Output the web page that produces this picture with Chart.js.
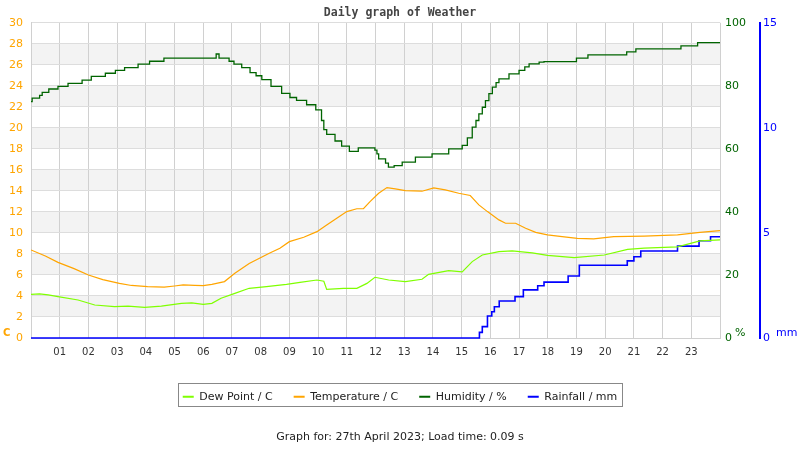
<!DOCTYPE html>
<html>
<head>
<meta charset="utf-8">
<title>Daily graph of Weather</title>
<script src="https://cdn.jsdelivr.net/npm/chart.js@4.4.0/dist/chart.umd.min.js"></script>
<style>
  body { margin: 0; background: #fff; }
  canvas { display: block; }
</style>
</head>
<body>
<canvas id="weatherChart" width="800" height="450"></canvas>
<script>
// readings for 27th April 2023, time in hours since midnight

const hourLabels = ['01', '02', '03', '04', '05', '06', '07', '08', '09', '10', '11', '12',
    '13', '14', '15', '16', '17', '18', '19', '20', '21', '22', '23'];

const dewHours = [0, 0.3, 0.6, 0.94, 1.64, 2.22, 2.91, 3.38, 3.96, 4.54, 5.24, 5.6, 6.0, 6.3, 6.62,
    7.1, 7.6, 8.2, 8.9, 9.37, 9.96, 10.2, 10.3, 10.88, 11.35, 11.7, 11.98, 12.46, 13.04, 13.62,
    13.85, 14.55, 15.02, 15.37, 15.72, 16.3, 16.76, 17.46, 17.99, 18.92, 19.97, 20.78, 21.36,
    22.52, 23.3, 24];
const dewValues = [4.16, 4.2, 4.1, 3.94, 3.62, 3.14, 2.98, 3.03, 2.92, 3.03, 3.3, 3.35, 3.2, 3.3, 3.78,
    4.25, 4.73, 4.89, 5.11, 5.3, 5.52, 5.4, 4.63, 4.73, 4.73, 5.2, 5.78, 5.52, 5.37, 5.59,
    6.06, 6.41, 6.3, 7.27, 7.9, 8.22, 8.29, 8.1, 7.87, 7.65, 7.9, 8.44, 8.56,
    8.68, 9.24, 9.33];

const tempHours = [0, 0.5, 0.94, 1.5, 2.0, 2.5, 3.08, 3.5, 4.06, 4.64, 5.0, 5.3, 5.7, 6.0, 6.3, 6.74,
    7.1, 7.6, 8.3, 8.67, 9.0, 9.5, 9.96, 10.3, 10.65, 11.0, 11.35, 11.58, 11.81, 12.11, 12.4,
    12.69, 13.04, 13.62, 14.03, 14.43, 14.9, 15.3, 15.6, 15.9, 16.3, 16.53, 16.88, 17.23, 17.58,
    17.99, 18.5, 19.03, 19.6, 20.3, 21.36, 22.52, 23.3, 24];
const tempValues = [8.38, 7.8, 7.2, 6.6, 6.0, 5.55, 5.2, 5.0, 4.89, 4.85, 4.95, 5.05, 5.0, 4.98, 5.1, 5.37,
    6.16, 7.1, 8.06, 8.54, 9.17, 9.59, 10.12, 10.76, 11.4, 12.03, 12.3, 12.3, 12.98, 13.78, 14.32,
    14.2, 14.03, 13.97, 14.29, 14.1, 13.78, 13.56, 12.67, 12.03, 11.24, 10.92, 10.92, 10.44, 10.06,
    9.81, 9.65, 9.49, 9.43, 9.65, 9.7, 9.81, 10.06, 10.22];

// humidity and rainfall change in steps: each value holds from its hour to the next one
const humHours = [0, 0.04, 0.3, 0.39, 0.62, 0.94, 1.29, 1.78, 2.1, 2.59, 2.94, 3.26, 3.73, 4.13, 4.63,
    6.45, 6.55, 6.9, 7.07, 7.34, 7.63, 7.84, 8.04, 8.36, 8.73, 9.02, 9.25, 9.6, 9.92, 10.12, 10.2,
    10.3, 10.59, 10.82, 11.09, 11.4, 11.98, 12.05, 12.11, 12.35, 12.45, 12.65, 12.93, 13.39, 13.97,
    14.55, 15.02, 15.2, 15.37, 15.5, 15.6, 15.72, 15.83, 15.95, 16.07, 16.2, 16.3, 16.65, 17.0,
    17.2, 17.35, 17.7, 17.87, 19.0, 19.4, 20.75, 21.07, 22.64, 23.22, 24];
const humValues = [75.0, 76.1, 77.0, 77.9, 79.0, 79.8, 80.8, 81.8, 83.0, 84.0, 84.9, 85.8, 86.9, 87.8, 88.8,
    90.1, 88.8, 87.8, 86.9, 85.8, 84.2, 83.2, 82.0, 79.8, 77.6, 76.3, 75.4, 74.0, 72.4, 69.0, 66.1,
    64.6, 62.5, 60.9, 59.2, 60.3, 59.6, 58.4, 56.8, 55.5, 54.2, 54.7, 55.8, 57.4, 58.4,
    60.0, 61.1, 63.5, 66.9, 69.0, 71.1, 73.2, 75.3, 77.5, 79.6, 81.0, 82.2, 83.8, 84.9,
    86.0, 87.0, 87.5, 87.7, 88.8, 89.8, 90.8, 91.7, 92.7, 93.7, 93.7];

const rainHours = [0, 15.62, 15.72, 15.9, 16.05, 16.14, 16.31, 16.86, 17.15, 17.65, 17.87, 18.71, 19.1,
    20.77, 21.0, 21.24, 22.52, 23.27, 23.67, 24];
const rainValues = [0, 0.27, 0.54, 1.05, 1.25, 1.49, 1.76, 1.97, 2.29, 2.49, 2.66, 2.95, 3.46,
    3.67, 3.87, 4.14, 4.37, 4.63, 4.82, 4.82];

function toPoints(hours, values) {
    return hours.map(function(h, i) { return {x: h, y: values[i]}; });
}

const FONT = '"DejaVu Sans", sans-serif';

// light grey bands behind every other 2 C step
const bandPlugin = {
    id: 'bands',
    beforeDraw(chart) {
        const {ctx, chartArea} = chart;
        const y = chart.scales.y;
        ctx.save();
        ctx.fillStyle = '#f3f3f3';
        for (let v = 2; v < 30; v += 4) {
            const top = y.getPixelForValue(v + 2);
            const bottom = y.getPixelForValue(v);
            ctx.fillRect(chartArea.left, top, chartArea.right - chartArea.left, bottom - top);
        }
        ctx.restore();
    }
};

// unit captions next to the zero of each axis, and the frame round the legend
const extrasPlugin = {
    id: 'extras',
    afterDraw(chart) {
        const ctx = chart.ctx;
        const s = chart.scales;
        ctx.save();
        ctx.textBaseline = 'middle';
        ctx.textAlign = 'left';
        ctx.font = 'bold 10px ' + FONT;
        ctx.fillStyle = '#ffa500';
        ctx.fillText('C', 3, s.y.getPixelForValue(0) - 5);
        ctx.font = '11px ' + FONT;
        ctx.fillStyle = '#006400';
        ctx.fillText('%', s.yHum.left + 15, s.yHum.getPixelForValue(0) - 5);
        ctx.fillStyle = '#0000ff';
        ctx.fillText('mm', s.yRain.left + 16, s.yRain.getPixelForValue(0) - 5);

        const boxes = chart.legend.legendHitBoxes;
        if (boxes && boxes.length) {
            const first = boxes[0];
            const last = boxes[boxes.length - 1];
            const left = Math.round(first.left - 5) + 0.5;
            const right = Math.round(last.left + last.width + 5) + 0.5;
            const top = Math.round(first.top - 8) + 0.5;
            const bottom = Math.round(first.top + first.height + 4) + 0.5;
            ctx.strokeStyle = '#888';
            ctx.lineWidth = 1;
            ctx.strokeRect(left, top, right - left, bottom - top);
        }
        ctx.restore();
    }
};

const ctx = document.getElementById('weatherChart').getContext('2d');

const weatherChart = new Chart(ctx, {
    type: 'line',
    data: {
        datasets: [{
            label: 'Dew Point / C',
            data: toPoints(dewHours, dewValues),
            borderColor: '#7fff00',
            backgroundColor: '#7fff00',
            borderWidth: 1.2,
            yAxisID: 'y'
        }, {
            label: 'Temperature / C',
            data: toPoints(tempHours, tempValues),
            borderColor: '#ffa500',
            backgroundColor: '#ffa500',
            borderWidth: 1.2,
            yAxisID: 'y'
        }, {
            label: 'Humidity / %',
            data: toPoints(humHours, humValues),
            borderColor: '#006400',
            backgroundColor: '#006400',
            borderWidth: 1.3,
            stepped: 'before',
            yAxisID: 'yHum'
        }, {
            label: 'Rainfall / mm',
            data: toPoints(rainHours, rainValues),
            borderColor: '#0000ff',
            backgroundColor: '#0000ff',
            borderWidth: 1.6,
            stepped: 'before',
            clip: 3,
            yAxisID: 'yRain'
        }]
    },
    options: {
        responsive: false,
        animation: false,
        elements: {
            point: { radius: 0 },
            line: { tension: 0 }
        },
        scales: {
            x: {
                type: 'linear',
                min: 0,
                max: 24,
                afterFit: function(scale) { scale.height = 32.2; },
                ticks: {
                    stepSize: 1,
                    autoSkip: false,
                    maxRotation: 0,
                    padding: 8,
                    color: '#333',
                    font: { family: FONT, size: 10 },
                    callback: function(v) {
                        return (v >= 1 && v <= 23) ? hourLabels[v - 1] : '';
                    }
                },
                grid: { color: '#d0d0d0', drawTicks: false },
                border: { color: '#d0d0d0' }
            },
            y: {
                position: 'left',
                min: 0,
                max: 30,
                afterFit: function(scale) { scale.width = 31; },
                ticks: {
                    stepSize: 2,
                    padding: 8,
                    color: '#ffa500',
                    font: { family: FONT, size: 11 }
                },
                grid: { color: '#dddddd', drawTicks: false },
                border: { color: '#d0d0d0' }
            },
            yHum: {
                position: 'right',
                min: 0,
                max: 100,
                afterFit: function(scale) { scale.width = 40; },
                ticks: {
                    stepSize: 20,
                    padding: 5,
                    color: '#006400',
                    font: { family: FONT, size: 11 }
                },
                grid: { drawOnChartArea: false, drawTicks: false },
                border: { display: false }
            },
            yRain: {
                position: 'right',
                min: 0,
                max: 15,
                afterFit: function(scale) { scale.width = 40; },
                ticks: {
                    stepSize: 5,
                    padding: 3,
                    color: '#0000ff',
                    font: { family: FONT, size: 11 }
                },
                grid: { drawOnChartArea: false, drawTicks: false },
                border: { display: true, color: '#0000ff', width: 2 }
            }
        },
        plugins: {
            title: {
                display: true,
                text: 'Daily graph of Weather',
                color: '#444',
                font: { family: '"DejaVu Sans Mono", monospace', size: 11.5, weight: 'bold' },
                padding: { top: 6, bottom: 3 }
            },
            subtitle: {
                display: true,
                position: 'bottom',
                text: 'Graph for: 27th April 2023; Load time: 0.09 s',
                color: '#222',
                font: { family: FONT, size: 11 },
                padding: { top: 18.5, bottom: 6.1 }
            },
            legend: {
                position: 'bottom',
                labels: {
                    usePointStyle: true,
                    pointStyle: 'line',
                    pointStyleWidth: 11,
                    padding: 21,
                    color: '#222',
                    font: { family: FONT, size: 11 },
                    generateLabels: function(chart) {
                        const items = Chart.defaults.plugins.legend.labels.generateLabels(chart);
                        items.forEach(function(item) { item.lineWidth = 2; });
                        return items;
                    }
                }
            },
            tooltip: { enabled: false }
        }
    },
    plugins: [bandPlugin, extrasPlugin]
});
</script>
</body>
</html>
